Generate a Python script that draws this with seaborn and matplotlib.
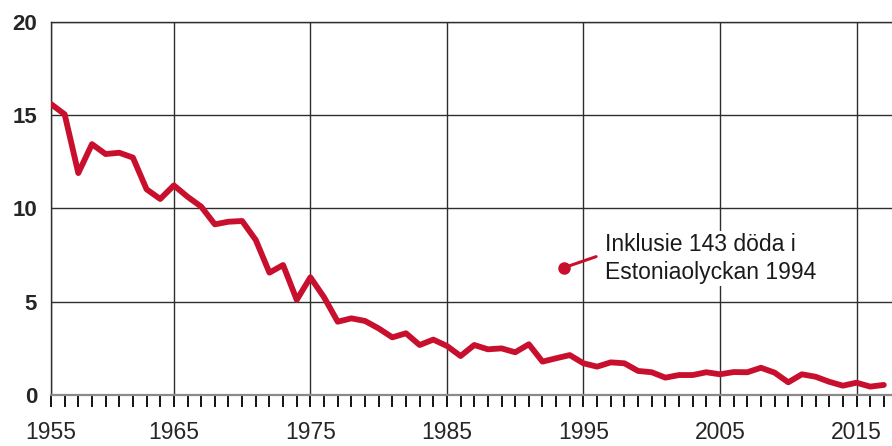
import matplotlib
matplotlib.use("Agg")
import matplotlib.pyplot as plt
import seaborn as sns

# Värden avlästa ur referensbilden (antal döda, per år)
years = list(range(1956, 2018))
deaths = [15.6, 15.05, 11.9, 13.45, 12.92, 12.99, 12.73, 11.03, 10.51, 11.24,
          10.63, 10.1, 9.15, 9.29, 9.33, 8.31, 6.56, 6.97, 5.1, 6.31,
          5.24, 3.93, 4.11, 3.97, 3.57, 3.09, 3.31, 2.68, 2.97, 2.63,
          2.09, 2.68, 2.45, 2.5, 2.29, 2.72, 1.79, 1.97, 2.14, 1.7,
          1.52, 1.75, 1.7, 1.29, 1.22, 0.93, 1.07, 1.07, 1.22, 1.11,
          1.23, 1.22, 1.46, 1.2, 0.68, 1.11, 0.98, 0.71, 0.5, 0.66,
          0.45, 0.54]
year_labels = ["1955", "1965", "1975", "1985", "1995", "2005", "2015"]
y_ticks = [0, 5, 10, 15, 20]
note = "Inklusie 143 döda i\nEstoniaolyckan 1994"

RED = "#c8102e"
GRID = "#2e2e2e"

sns.set_theme(style="white")
plt.rcParams["font.family"] = ["Liberation Sans", "DejaVu Sans"]

fig = plt.figure(figsize=(8.92, 4.46), dpi=100)
ax = fig.add_axes([51 / 892, 1 - 395 / 446, 1 - 51 / 892, (395 - 22) / 446])

sns.lineplot(x=years, y=deaths, ax=ax, color=RED, linewidth=4.2, zorder=3)

ax.set_xlim(1956, 2017.6)
ax.set_ylim(0, 20)

major_x = [1956] + list(range(1965, 2016, 10))
ax.set_xticks(major_x)
ax.set_xticklabels(year_labels, fontsize=16.5)
ax.set_xticks(range(1957, 2018), minor=True)
ax.set_yticks(y_ticks)
ax.set_yticklabels([str(v) for v in y_ticks], fontsize=16, fontweight="bold")

ax.grid(True, axis="both", which="major", color=GRID, linewidth=1.0)
ax.set_axisbelow(True)

ax.tick_params(axis="x", which="both", direction="out", length=8.5, width=1.3,
               color="black", pad=10, bottom=True)
ax.tick_params(axis="y", length=0, pad=10)

ax.spines["right"].set_visible(False)
ax.spines["top"].set_color(GRID)
ax.spines["top"].set_linewidth(1.0)
ax.spines["left"].set_color(GRID)
ax.spines["left"].set_linewidth(1.0)
ax.spines["bottom"].set_color("#8a8a8a")
ax.spines["bottom"].set_linewidth(1.6)

# Markering för Estoniaolyckan
ax.plot([1993.58, 1995.93], [6.83, 7.42], color=RED, linewidth=2.2, zorder=4)
ax.plot([1993.58], [6.83], marker="o", markersize=8, color=RED, zorder=4)
ax.text(1996.6, 8.7, note, fontsize=16.5, va="top", ha="left",
        linespacing=1.3, color="#1a1a1a", zorder=5,
        bbox=dict(facecolor="white", edgecolor="none", pad=1))

fig.savefig("out.png", dpi=100)
